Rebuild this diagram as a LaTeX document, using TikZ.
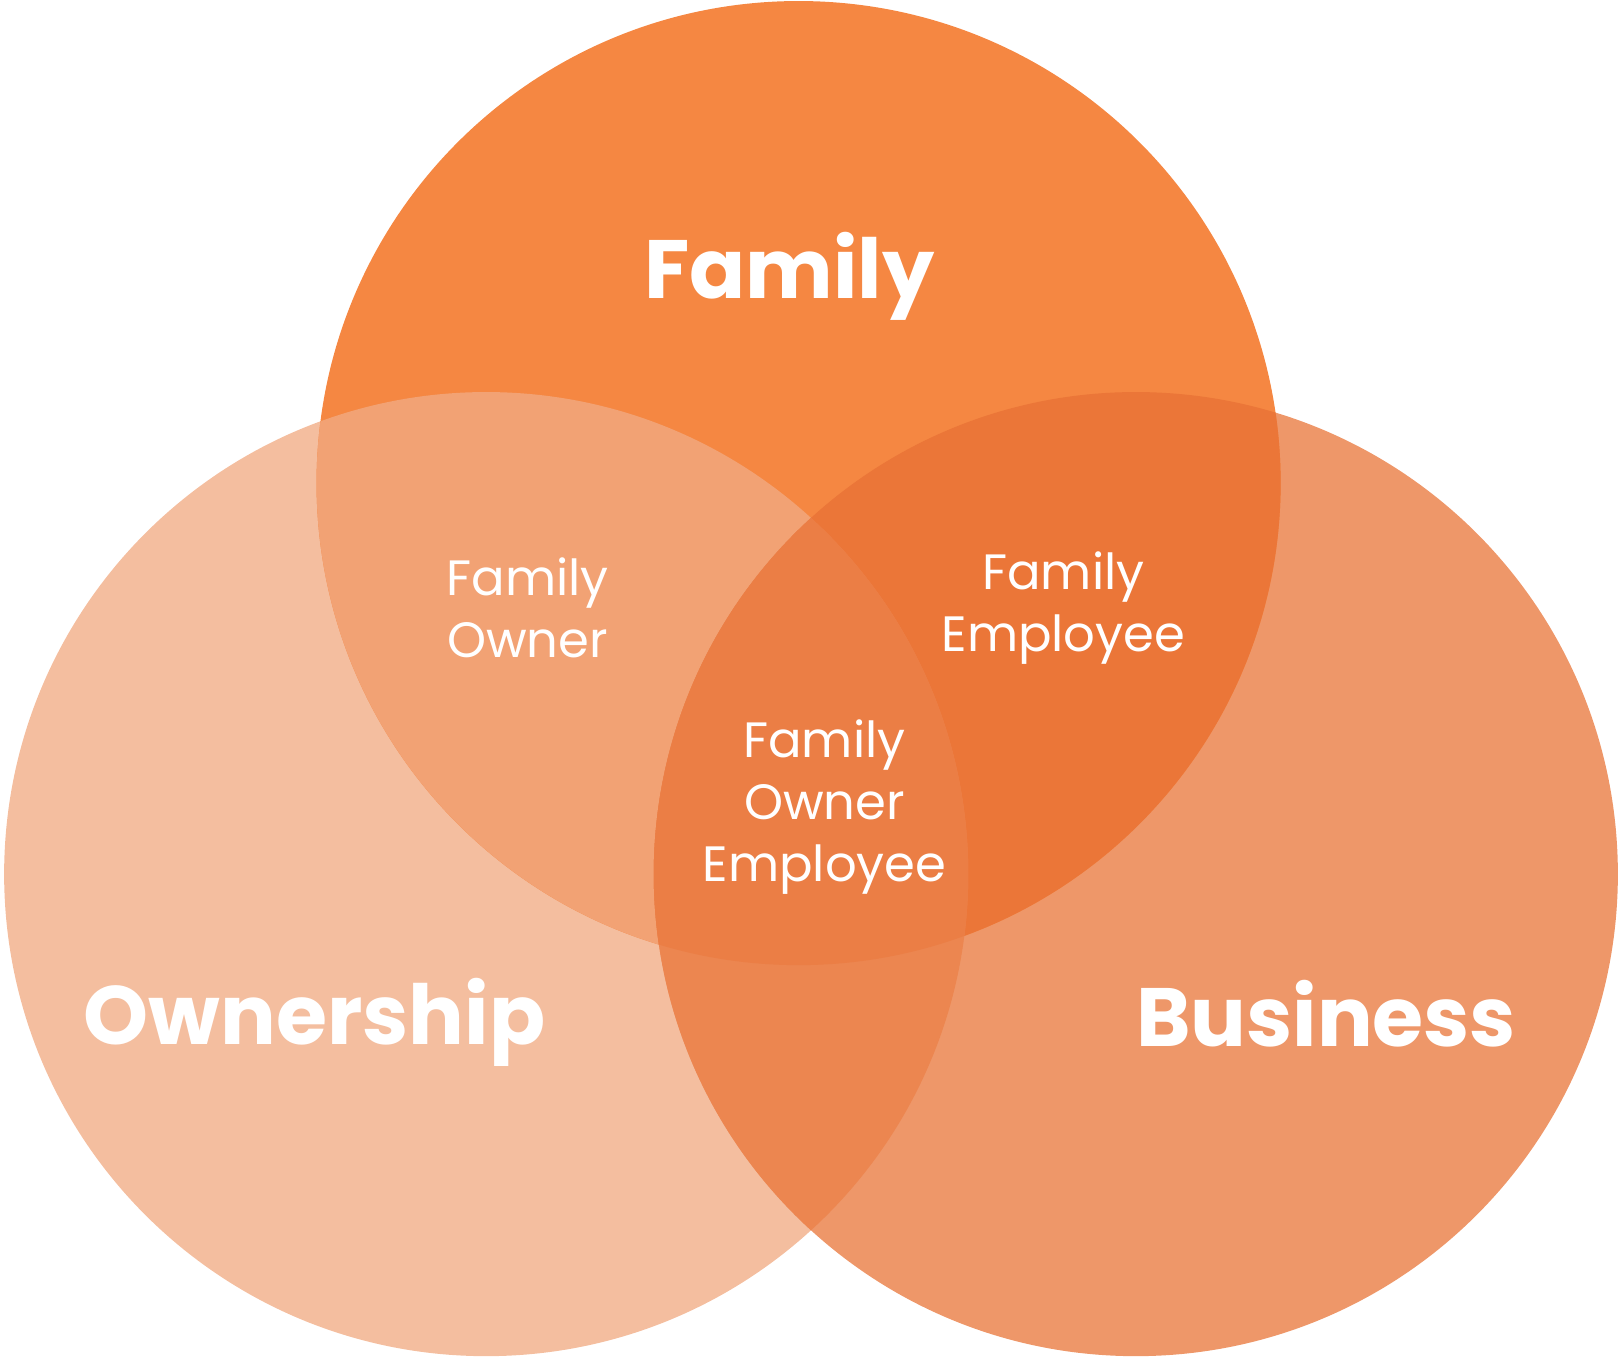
\documentclass[tikz,border=0pt]{standalone}
\usepackage{fontspec}
\setmainfont{Poppins}
\begin{document}
\begin{tikzpicture}[x=1pt,y=-1pt,
 big/.style={text=white,font=\fontsize{80}{90}\selectfont\bfseries},
 small/.style={text=white,font=\fontsize{48}{60}\selectfont,align=center}]
\useasboundingbox (0,0) rectangle (1568,1311);
\def\F{(772,467) circle (466)}
\def\O{(470,845) circle (466)}
\def\B{(1098,845) circle (466)}
\definecolor{cO}{HTML}{F4BE9F}
\definecolor{cB}{HTML}{EE9769}
\definecolor{cF}{HTML}{F58742}
\definecolor{cFO}{HTML}{F2A274}
\definecolor{cFB}{HTML}{EB7638}
\definecolor{cOB}{HTML}{EC8650}
\definecolor{cFOB}{HTML}{EB7E45}
\fill[cO] \O;
\fill[cB] \B;
\fill[cF] \F;
\begin{scope}\clip \F; \fill[cFO] \O; \end{scope}
\begin{scope}\clip \F; \fill[cFB] \B; \end{scope}
\begin{scope}\clip \O; \fill[cOB] \B; \end{scope}
\begin{scope}\clip \O; \clip \B; \fill[cFOB] \F; \end{scope}
\node[big] (fam) at (763,267) {Family};
\node[big] (own) at (304,988) {Ownership};
\node[big] (bus) at (1282,980) {Business};
\node[small] (fo) at (510,588) {Family\\Owner};
\node[small] (fe) at (1028,588) {Family\\Employee};
\node[small] (foe) at (797,780) {Family\\Owner\\Employee};
\end{tikzpicture}
\end{document}
